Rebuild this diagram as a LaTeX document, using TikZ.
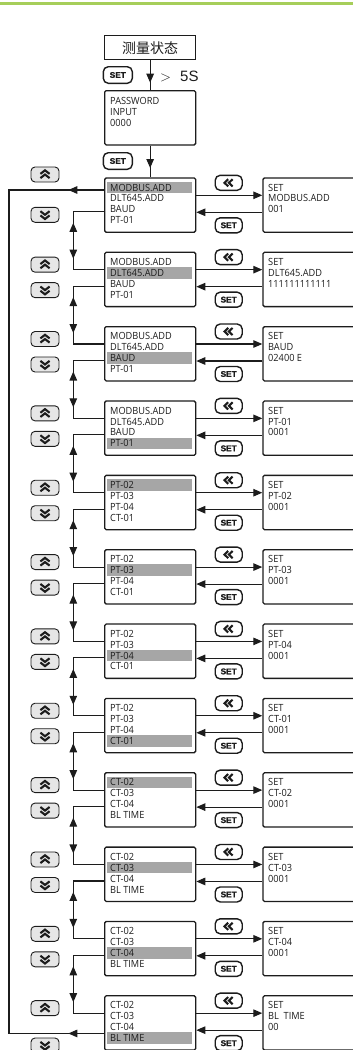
\documentclass[tikz,border=0pt]{standalone}
\usepackage{fontspec}
\setmainfont[FakeStretch=0.93]{Open Sans}
\newfontfamily\cjk{Noto Sans CJK SC}
\newfontfamily\arial{Liberation Sans}
\newfontfamily\arialblk[FakeBold=1.2]{Liberation Sans Bold}
\usetikzlibrary{arrows.meta}
\definecolor{lgreen}{RGB}{166,206,90}
\definecolor{hlgray}{RGB}{166,166,166}
\definecolor{btngray}{RGB}{230,230,230}
\definecolor{ink}{RGB}{28,28,28}
\begin{document}
\begin{tikzpicture}[x=1pt,y=-1pt,
  >={Triangle[length=9pt,width=7.5pt]},
  box/.style={draw=ink,line width=1.3pt,rounded corners=1.5pt,minimum width=91pt,minimum height=54.3pt,anchor=north west,inner sep=0pt},
  rbox/.style={box,minimum width=110pt},
  txt/.style={anchor=base west,inner sep=0pt,text=ink,font=\fontsize{9.9}{11}\selectfont},
  conn/.style={draw=ink,line width=1.1pt},
  setbtn/.style={draw=ink,line width=1.4pt,fill=white,rounded corners=5pt,minimum width=27pt,minimum height=15pt,inner sep=0pt,text=ink,font=\arialblk\fontsize{8.3}{9}\selectfont},
  fbtn/.style={setbtn},
  ubtn/.style={draw=ink,line width=0.9pt,fill=btngray,rounded corners=4pt,minimum width=28pt,minimum height=15pt,inner sep=0pt},
  chev/.style={draw=ink,line width=2.1pt,line join=miter}]
\useasboundingbox (0,0) rectangle (353,1050);
\clip (0,0) rectangle (353,1050);
% top green rule
\draw[lgreen,line width=2.6pt] (0,3.6) -- (353,3.6);
% title and password
\node[draw=ink,line width=1.3pt,minimum width=91pt,minimum height=24pt,anchor=north west,inner sep=0pt,text=ink,font=\cjk\fontsize{14}{14}\selectfont] (title) at (104,35) {测量状态};
\node[box] (pw) at (104,90) {};
\node[txt] (pwa) at (110,104.3) {PASSWORD};
\node[txt] (pwb) at (110,115.2) {INPUT};
\node[txt] (pwc) at (110,126.1) {0000};
\node[setbtn,minimum width=29pt,minimum height=16.6pt] (s1) at (117.8,75) {SET};
\node[anchor=base west,inner sep=0pt,text=ink,font=\fontsize{15}{15}\selectfont] (gt) at (160,81.7) {$>$};
\node[anchor=base west,inner sep=0pt,text=ink,font=\arial\fontsize{15}{15}\selectfont] (fs) at (180,81.7) {5S};
\node[setbtn,minimum width=29pt,minimum height=16.6pt] (s2) at (117.8,161) {SET};
% menu rows
\foreach \i/\a/\b/\c/\d/\h/\rn/\rv in {
0/MODBUS.ADD/DLT645.ADD/BAUD/PT-01/0/MODBUS.ADD/001,
1/MODBUS.ADD/DLT645.ADD/BAUD/PT-01/1/DLT645.ADD/111111111111,
2/MODBUS.ADD/DLT645.ADD/BAUD/PT-01/2/BAUD/02400 E,
3/MODBUS.ADD/DLT645.ADD/BAUD/PT-01/3/PT-01/0001,
4/PT-02/PT-03/PT-04/CT-01/0/PT-02/0001,
5/PT-02/PT-03/PT-04/CT-01/1/PT-03/0001,
6/PT-02/PT-03/PT-04/CT-01/2/PT-04/0001,
7/PT-02/PT-03/PT-04/CT-01/3/CT-01/0001,
8/CT-02/CT-03/CT-04/BL TIME/0/CT-02/0001,
9/CT-02/CT-03/CT-04/BL TIME/1/CT-03/0001,
10/CT-02/CT-03/CT-04/BL TIME/2/CT-04/0001,
11/CT-02/CT-03/CT-04/BL TIME/3/BL\ \ TIME/00}{
  \pgfmathsetmacro\t{177.3+74.35*\i}
  \pgfmathsetmacro\hy{\t+4.4+10.95*\h}
  \pgfmathsetmacro\hyb{\hy+11.6}
  \pgfmathsetmacro\uy{\i==0 ? 174.5 : \t+13}
  \pgfmathsetmacro\dy{\i==0 ? 214.8 : (\i==11 ? 1045.5 : \t+38.5)}
  \fill[hlgray] (107.3,\hy) rectangle (192,\hyb);
  \node[box] (L\i) at (104,\t) {};
  \node[txt] (La\i) at (110,\t+13.7) {\a};
  \node[txt] (Lb\i) at (110,\t+24.65) {\b};
  \node[txt] (Lc\i) at (110,\t+35.6) {\c};
  \node[txt] (Ld\i) at (110,\t+46.55) {\d};
  \node[rbox] (R\i) at (262.3,\t) {};
  \node[txt] (Ra\i) at (268,\t+13.7) {SET};
  \node[txt] (Rb\i) at (268,\t+24.65) {\rn};
  \node[txt] (Rc\i) at (268,\t+35.6) {\rv};
  % buttons
  \node[fbtn] (F\i) at (228.7,\t+5.5) {};
  \draw[chev,shift={(F\i.center)}] (-0.5,-3.6) -- (-4.2,0) -- (-0.5,3.6) (3.9,-3.6) -- (0.2,0) -- (3.9,3.6);
  \node[setbtn] (S\i) at (228.7,\t+48) {SET};
  \node[ubtn] (U\i) at (45,\uy) {};
  \draw[chev,shift={(U\i.center)}] (-4.6,-0.6) -- (0,-4.2) -- (4.6,-0.6) (-4.6,3.6) -- (0,0) -- (4.6,3.6);
  \node[ubtn] (D\i) at (45,\dy) {};
  \draw[chev,shift={(D\i.center)}] (-4.6,0.6) -- (0,4.2) -- (4.6,0.6) (-4.6,-3.6) -- (0,0) -- (4.6,-3.6);
  % left-right connectors
  \path (L\i.north east) ++(0,18) coordinate (ua\i);
  \path (R\i.north west) ++(0,18) coordinate (ub\i);
  \path (R\i.north west) ++(0,35) coordinate (da\i);
  \path (L\i.north east) ++(0,35) coordinate (db\i);
  \draw[conn,->] (ua\i) -- (ub\i);
  \draw[conn,->] (da\i) -- (db\i);
}
% vertical links between rows
\foreach \i in {0,...,10}{
  \pgfmathtruncatemacro\j{\i+1}
  \path (L\i.north west) ++(0,34.5) coordinate (ex\i) ++(-30.7,0) coordinate (ka\i);
  \path (L\j.north west) ++(0,18) coordinate (en\j) ++(-30.7,0) coordinate (kb\i);
  \draw[conn] (ex\i) -- (ka\i) -- (kb\i) -- (en\j);
  \draw[conn,<->,shorten <=11pt,shorten >=11pt] (ka\i) -- (kb\i);
}
% entry arrows
\draw[conn] (title.south) -- (pw.north);
\draw[conn,->,shorten >=7.3pt] (title.south) -- (pw.north);
\draw[conn] (pw.south) -- (L0.north);
\draw[conn,->,shorten >=9.3pt] (pw.south) -- (L0.north);
% outer loop
\path (L0.north west) ++(0,12.7) coordinate (o0) ++(-95,0) coordinate (lt);
\path (L11.north west) ++(0,38.3) coordinate (o11) ++(-95,0) coordinate (lb);
\draw[conn] (o0) -- (lt) -- (lb) -- (o11);
\draw[conn,->,shorten >=59.3pt] (o0) -- (lt);
\draw[conn,->,shorten >=59.3pt] (o11) -- (lb);
\end{tikzpicture}
\end{document}
